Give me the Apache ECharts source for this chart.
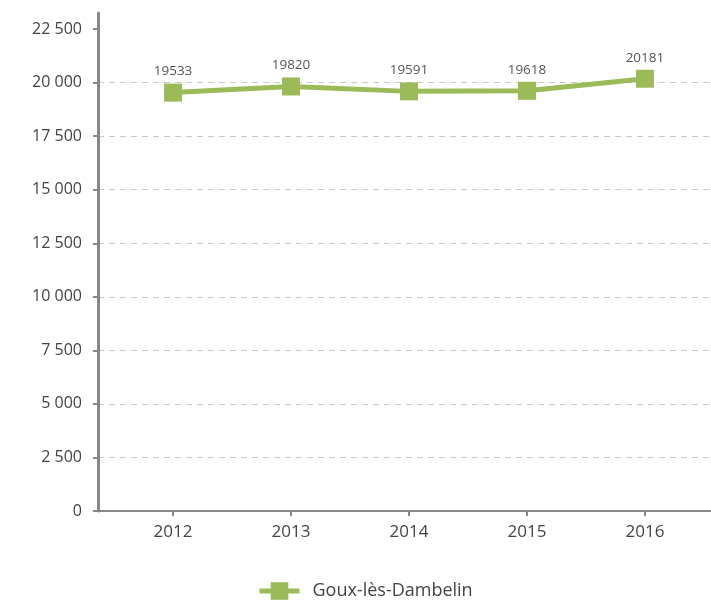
<!DOCTYPE html>
<html><head><meta charset="utf-8">
<script src="https://cdn.jsdelivr.net/npm/echarts@6/dist/echarts.min.js"></script>
<style>html,body{margin:0;padding:0;background:#fff}#c{width:711px;height:602px}</style>
</head><body><div id="c"></div>
<script>
const years = [2012, 2013, 2014, 2015, 2016];
const values = [19533, 19820, 19591, 19618, 20181];
const yTicks = [0, 2500, 5000, 7500, 10000, 12500, 15000, 17500, 20000, 22500];
const seriesName = 'Goux-lès-Dambelin';

const font = '"Open Sans", "Noto Sans", sans-serif';
const chart = echarts.init(document.getElementById('c'));
chart.setOption({
  animation: false,
  grid: { left: 98, right: 0, top: 13, bottom: 91 },
  xAxis: {
    type: 'value', min: 2011.364, max: 2016.56,
    axisLine: { show: true, lineStyle: { color: '#888', width: 2 } },
    axisTick: { show: true, customValues: years, length: 5, inside: false, lineStyle: { color: '#888', width: 2 } },
    axisLabel: { customValues: years, formatter: v => String(v), color: '#444', fontSize: 17, fontFamily: font, margin: 13 },
    splitLine: { show: false }
  },
  yAxis: {
    type: 'value', min: 0, max: 23250, interval: 2500,
    axisLine: { show: true, lineStyle: { color: '#888', width: 3 } },
    axisTick: { show: true, customValues: yTicks, length: 5, lineStyle: { color: '#888', width: 2 } },
    axisLabel: { customValues: yTicks, color: '#444', fontSize: 16, fontFamily: font, margin: 16,
      formatter: v => v >= 1000 ? Math.floor(v/1000) + ' ' + String(v % 1000).padStart(3, '0') : String(v) },
    splitLine: { show: true, showMaxLine: false, lineStyle: { color: '#c8c8c8', type: [6, 5], width: 1 } }
  },
  legend: {
    bottom: -3, left: 252, itemWidth: 40, itemHeight: 22, itemGap: 10,
    textStyle: { color: '#444', fontSize: 18, fontFamily: font, padding: [0, 0, 0, 8] },
    lineStyle: { width: 5 },
    data: [{ name: seriesName }]
  },
  series: [{
    name: seriesName, type: 'line',
    data: years.map((y, i) => [y, values[i]]),
    symbol: 'rect', symbolSize: 18,
    lineStyle: { color: '#9bbb59', width: 5 },
    itemStyle: { color: '#9bbb59' },
    label: { show: true, position: 'top', distance: 5, color: '#555', fontSize: 13.5, fontFamily: font },
    legendHoverLink: false
  }]
});
</script></body></html>
